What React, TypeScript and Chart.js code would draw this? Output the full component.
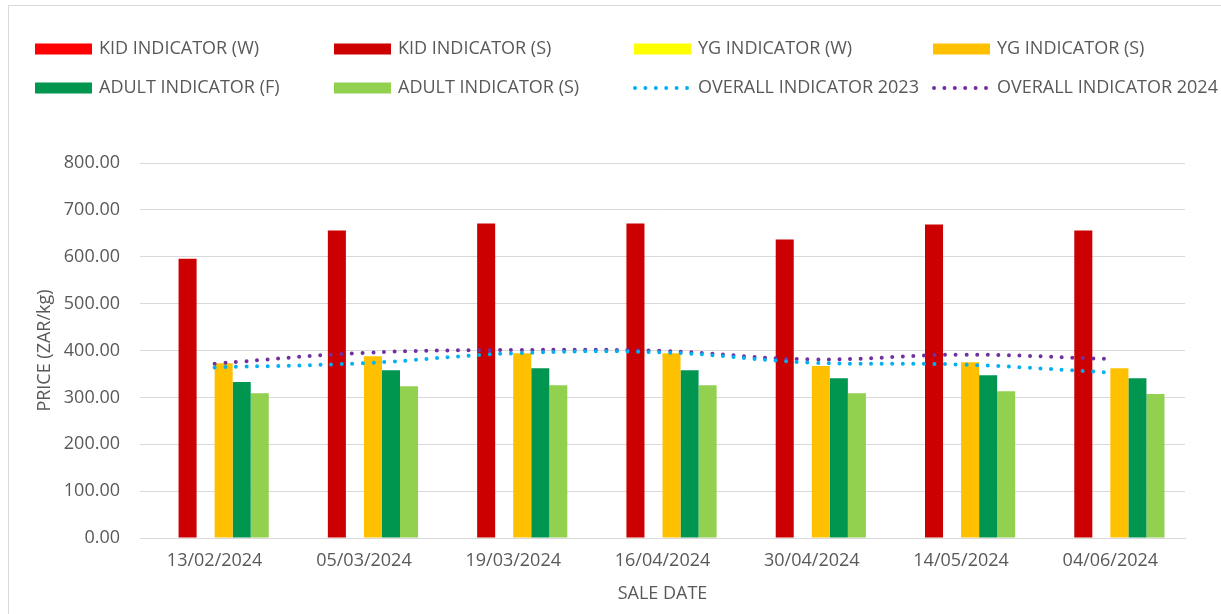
import React, { useEffect, useRef } from "react";
import { Chart, registerables } from "chart.js";
Chart.register(...registerables);

const saleDates = ["13/02/2024", "05/03/2024", "19/03/2024", "16/04/2024", "30/04/2024", "14/05/2024", "04/06/2024"];
const kidW: (number | null)[] = [null, null, null, null, null, null, null];
const kidS = [596, 656, 671, 671, 637, 669, 656];
const ygW: (number | null)[] = [null, null, null, null, null, null, null];
const ygS = [373, 388, 394, 394, 367, 375, 362];
const adultF = [333, 358, 362, 358, 341, 347, 341];
const adultS = [309, 324, 326, 326, 309, 313, 307];
const overall2023 = [364, 373, 394, 396, 374, 370, 353];
const overall2024 = [372, 395, 401, 399, 381, 391, 382];
const yTicks = [0, 100, 200, 300, 400, 500, 600, 700, 800];

const TEXT = "#595959";
const GRID = "#D9D9D9";
const FONT = '"Open Sans", sans-serif';

const legendPlugin = {
  id: "gridLegend",
  afterDraw(chart: any) {
    const ctx: CanvasRenderingContext2D = chart.ctx;
    const cols = [35, 334, 634, 933];
    const rows = [49, 88];
    ctx.save();
    ctx.textBaseline = "middle";
    ctx.font = `18px ${FONT}`;
    chart.data.datasets.forEach((ds: any, i: number) => {
      const x = cols[i % 4];
      const y = rows[Math.floor(i / 4)];
      if (ds.type === "line") {
        ctx.save();
        ctx.strokeStyle = ds.borderColor;
        ctx.lineWidth = 4;
        ctx.lineCap = "round";
        ctx.setLineDash([0, 10.4]);
        ctx.beginPath();
        ctx.moveTo(x + 1, y);
        ctx.lineTo(x + 56, y);
        ctx.stroke();
        ctx.restore();
      } else {
        ctx.fillStyle = ds.backgroundColor;
        ctx.fillRect(x, y - 5.5, 57, 11);
      }
      ctx.fillStyle = TEXT;
      ctx.fillText(ds.label, x + 64, y);
    });
    ctx.strokeStyle = GRID;
    ctx.lineWidth = 1;
    ctx.setLineDash([]);
    ctx.strokeRect(8.5, 5.5, 1400, 800);
    ctx.restore();
  },
};

export default function App() {
  const ref = useRef<HTMLCanvasElement>(null);
  useEffect(() => {
    document.body.style.margin = "0";
    document.body.style.overflow = "hidden";
    const lineCommon = {
      type: "line" as const,
      pointRadius: 0,
      borderWidth: 4,
      borderCapStyle: "round" as const,
      borderDash: [0, 10.6],
      tension: 0.4,
      fill: false,
      order: 0,
    };
    const chart = new Chart(ref.current!, {
      type: "bar",
      data: {
        labels: saleDates,
        datasets: [
          { type: "bar", label: "KID INDICATOR (W)", data: kidW, backgroundColor: "#FF0000", order: 1 },
          { type: "bar", label: "KID INDICATOR (S)", data: kidS, backgroundColor: "#CC0000", order: 1 },
          { type: "bar", label: "YG INDICATOR (W)", data: ygW, backgroundColor: "#FFFF00", order: 1 },
          { type: "bar", label: "YG INDICATOR (S)", data: ygS, backgroundColor: "#FFC000", order: 1 },
          { type: "bar", label: "ADULT INDICATOR (F)", data: adultF, backgroundColor: "#009650", order: 1 },
          { type: "bar", label: "ADULT INDICATOR (S)", data: adultS, backgroundColor: "#92D050", order: 1 },
          { ...lineCommon, label: "OVERALL INDICATOR 2023", data: overall2023, borderColor: "#00B0F0", backgroundColor: "#00B0F0" },
          { ...lineCommon, label: "OVERALL INDICATOR 2024", data: overall2024, borderColor: "#7030A0", backgroundColor: "#7030A0" },
        ] as any,
      },
      options: {
        responsive: false,
        animation: false,
        layout: { padding: { top: 163, right: 36, left: 0, bottom: 0 } },
        datasets: { bar: { barPercentage: 1, categoryPercentage: 0.725 } } as any,
        plugins: { legend: { display: false }, tooltip: { enabled: false } },
        scales: {
          x: {
            grid: { display: false, drawTicks: false },
            border: { display: true, color: GRID, width: 1 },
            ticks: { color: TEXT, font: { family: FONT, size: 18 }, padding: 12, maxRotation: 0 },
            title: { display: true, text: "SALE DATE", color: TEXT, font: { family: FONT, size: 18 }, padding: { top: 0, bottom: 9 } },
            afterFit: (s: any) => { s.height = 76; },
          },
          y: {
            min: 0,
            max: 800,
            afterBuildTicks: (s: any) => { s.ticks = yTicks.map((v) => ({ value: v })); },
            grid: { color: GRID, lineWidth: 1, drawTicks: false },
            border: { display: false },
            ticks: { color: TEXT, font: { family: FONT, size: 18 }, padding: 20, callback: (v: any) => Number(v).toFixed(2) },
            title: { display: true, text: "PRICE (ZAR/kg)", color: TEXT, font: { family: FONT, size: 18 }, padding: { top: 34, bottom: 0 } },
            afterFit: (s: any) => { s.width = 140; },
          },
        },
      },
      plugins: [legendPlugin],
    });
    return () => chart.destroy();
  }, []);
  return <canvas ref={ref} width={1221} height={614} style={{ display: "block", width: 1221, height: 614 }} />;
}
